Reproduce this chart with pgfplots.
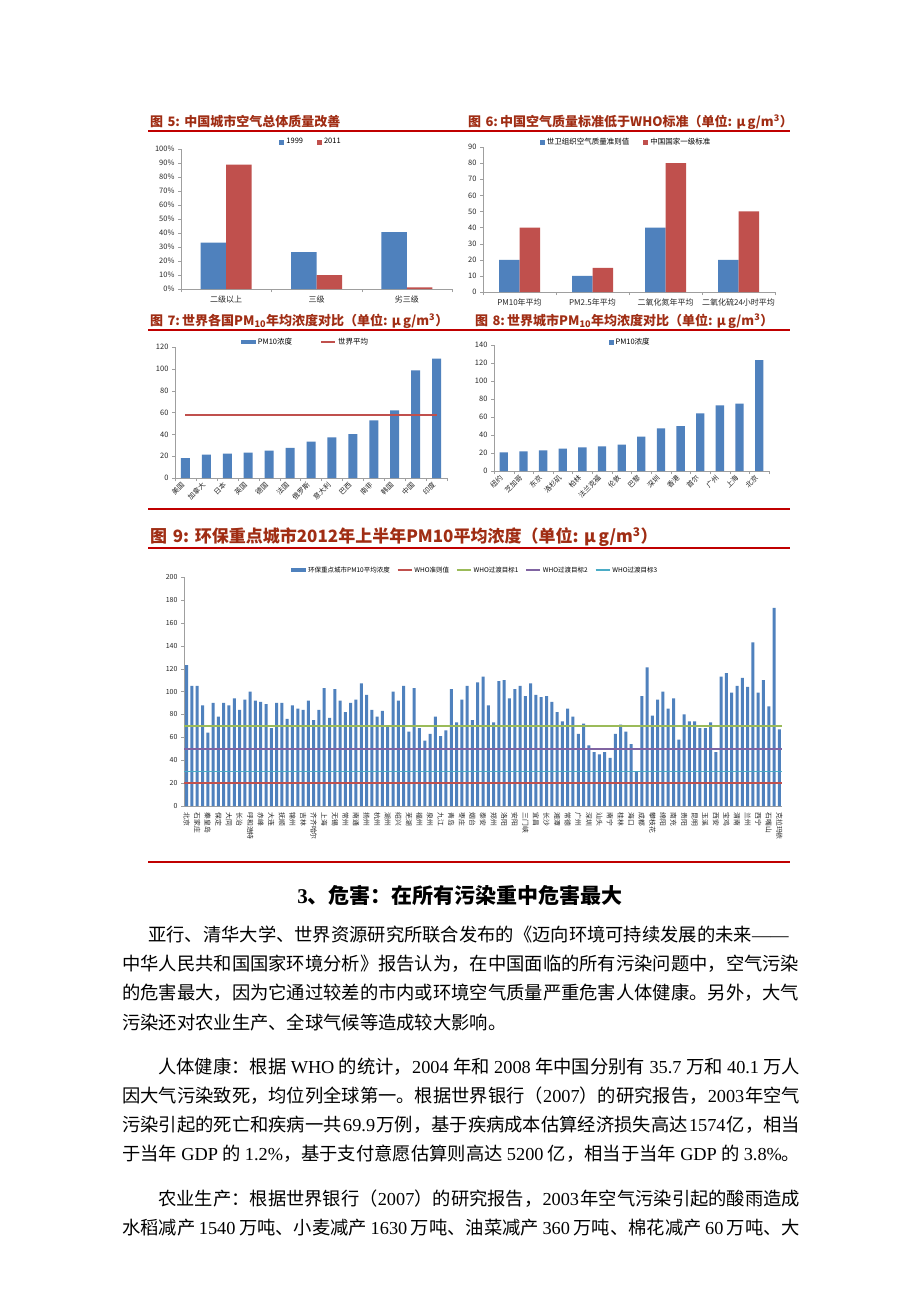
\documentclass[border=0pt]{standalone}
\usepackage{fontspec}
\setmainfont{Noto Sans CJK SC}
\newfontfamily\lat{Liberation Serif}
\usepackage{pgfplots}
\usepackage{pgfplotstable}
\pgfplotsset{compat=1.18}
\definecolor{xblue}{RGB}{79,129,189}
\definecolor{xred}{RGB}{192,80,77}
\definecolor{xgreen}{RGB}{155,187,89}
\definecolor{xpurple}{RGB}{128,100,162}
\definecolor{xcyan}{RGB}{75,172,198}
\definecolor{hdr}{RGB}{160,45,20}
\definecolor{rline}{RGB}{192,0,0}
\newcommand{\fs}[1]{\fontsize{#1}{#1}\selectfont}
\newcommand{\gp}{\hskip 0.22em plus 0.4em minus 0.2em\relax}
\pgfplotsset{
  doc/.style={scale only axis, axis x line*=bottom, axis y line*=left,
    axis line style={draw=gray!75},
    every outer x axis line/.append style={-}, every outer y axis line/.append style={-},
    every inner x axis line/.append style={-}, every inner y axis line/.append style={-},
    tick style={draw=gray!75}, tick align=outside,
    major tick length=3pt, minor tick length=3pt,
    /pgf/number format/assume math mode=true,
    ticklabel style={font=\fs{7.5}, text=black!85},
    legend style={draw=none, fill=none, legend columns=-1, font=\fs{7.5}, anchor=center,
      /tikz/every even column/.append style={column sep=12pt}},
    anchor=south west},
  sq/.style={legend image code/.code={\fill[##1] (0pt,-2.5pt) rectangle (5pt,2.5pt);}},
  rc/.style={legend image code/.code={\fill[##1] (0pt,-2pt) rectangle (15pt,2pt);}},
  ln/.style={legend image code/.code={\draw[##1] (0pt,0pt) -- (14pt,0pt);}},
}
\pgfplotstableread{
y
123
105
105
88
64
90
78
90
88
94
84
93
100
92
91
89
68
90
90
76
88
85
84
92
75
84
103
77
102
92
82
90
93
107
97
84
78
83
69
100
92
105
65
103
68
57
63
78
61
66
102
73
93
105
75
108
113
88
73
109
110
94
102
105
96
107
97
95
96
91
82
74
85
78
63
72
53
47
45
47
42
63
71
65
54
30
96
121
79
93
100
85
94
58
80
74
74
68
68
73
47
113
116
99
105
112
104
143
99
110
87
173
67
}\citydata
\begin{document}
\begin{tikzpicture}
\fill[white] (0pt,0pt) rectangle (920pt,-1302pt);

% ---------- headings and rules ----------
\begin{scope}[every node/.style={anchor=west, inner sep=0pt, text=hdr}]
\node[font=\fs{13}\bfseries] at (150pt,-122pt) {图\,\,5:\,\,中国城市空气总体质量改善};
\node[font=\fs{13}\bfseries] at (468pt,-122pt) {图\,\,6:\,中国空气质量标准低于WHO标准（单位:\,\,μ\,g/m\textsuperscript{3}）};
\node[font=\fs{13}\bfseries] at (150pt,-321pt) {图\,\,7:\,世界各国PM\textsubscript{10}年均浓度对比（单位:\,\,μ\,g/m\textsuperscript{3}）};
\node[font=\fs{13}\bfseries] at (475pt,-321pt) {图\,\,8:\,世界城市PM\textsubscript{10}年均浓度对比（单位:\,\,μ\,g/m\textsuperscript{3}）};
\node[font=\fs{17}\bfseries] at (150pt,-537pt) {图\,\,9:\,\,环保重点城市2012年上半年PM10平均浓度（单位:\,\,μ\,g/m\textsuperscript{3}）};
\end{scope}
\draw[rline, line width=1.6pt] (148pt,-131pt) -- (790pt,-131pt);
\draw[rline, line width=1.6pt] (148pt,-330pt) -- (790pt,-330pt);
\draw[rline, line width=1.6pt] (148pt,-509pt) -- (790pt,-509pt);
\draw[rline, line width=2.2pt] (148pt,-548pt) -- (790pt,-548pt);
\draw[rline, line width=2.2pt] (148pt,-862pt) -- (790pt,-862pt);

% ---------- Fig 5 ----------
\begin{axis}[doc, at={(181pt,-289pt)}, width=271pt, height=140pt,
  xmin=-0.5, xmax=2.5, ymin=0, ymax=100, ytick={0,10,...,100},
  yticklabel={\pgfmathprintnumber{\tick}\%},
  xtick={0,1,2}, xticklabels={二级以上,三级,劣三级},
  xticklabel style={font=\fs{8}},
  every major x tick/.append style={draw=none},
  minor xtick={-0.5,0.5,1.5,2.5},
  legend style={at={(0.48,1.05)}}]
\addplot[ybar, bar width=25.5pt, bar shift=-12.75pt, fill=xblue, draw=none, sq] coordinates {(0,33.1) (1,26.3) (2,40.6)};
\addplot[ybar, bar width=25.5pt, bar shift=12.75pt, fill=xred, draw=none, sq] coordinates {(0,88.8) (1,10) (2,1.2)};
\legend{1999,2011}
\end{axis}

% ---------- Fig 6 ----------
\begin{axis}[doc, at={(483pt,-292pt)}, width=292pt, height=145pt,
  xmin=-0.5, xmax=3.5, ymin=0, ymax=90, ytick={0,10,...,90},
  xtick={0,1,2,3}, xticklabels={PM10年平均,PM2.5年平均,二氧化氮年平均,二氧化硫24小时平均},
  xticklabel style={font=\fs{8}},
  every major x tick/.append style={draw=none},
  minor xtick={-0.5,0.5,1.5,2.5,3.5},
  legend style={at={(0.49,1.034)}}]
\addplot[ybar, bar width=20.5pt, bar shift=-10.25pt, fill=xblue, draw=none, sq] coordinates {(0,20) (1,10) (2,40) (3,20)};
\addplot[ybar, bar width=20.5pt, bar shift=10.25pt, fill=xred, draw=none, sq] coordinates {(0,40) (1,15) (2,80) (3,50)};
\legend{世卫组织空气质量准则值,中国国家一级标准}
\end{axis}

% ---------- Fig 7 ----------
\begin{axis}[doc, at={(175pt,-478pt)}, width=272pt, height=131pt,
  xmin=-0.5, xmax=12.5, ymin=0, ymax=120, ytick={0,20,...,120},
  xtick={0,...,12}, xticklabels={美国,加拿大,日本,英国,德国,法国,俄罗斯,意大利,巴西,南非,韩国,中国,印度},
  xticklabel style={rotate=45, anchor=east, font=\fs{7}},
  every major x tick/.append style={draw=none},
  minor xtick={-0.5,0.5,...,12.5},
  legend style={at={(0.48,1.04)}, /tikz/every even column/.append style={column sep=26pt}}]
\addplot[ybar, bar width=9pt, fill=xblue, draw=none, rc] coordinates {(0,18.3) (1,21.4) (2,22.3) (3,23.2) (4,25) (5,27.5) (6,33.3) (7,37.3) (8,40.3) (9,52.8) (10,62) (11,98.6) (12,109.3)};
\addplot[draw=xred, line width=2pt, mark=none, sharp plot, ln] coordinates {(0,57.4) (12,57.4)};
\legend{PM10浓度,世界平均}
\end{axis}

% ---------- Fig 8 ----------
\begin{axis}[doc, at={(494pt,-471pt)}, width=275pt, height=126pt,
  xmin=-0.5, xmax=13.5, ymin=0, ymax=140, ytick={0,20,...,140},
  xtick={0,...,13}, xticklabels={纽约,芝加哥,东京,洛杉矶,柏林,法兰克福,伦敦,巴黎,深圳,香港,首尔,广州,上海,北京},
  xticklabel style={rotate=45, anchor=east, font=\fs{7}},
  every major x tick/.append style={draw=none},
  minor xtick={-0.5,0.5,...,13.5},
  legend style={at={(0.495,1.02)}}]
\addplot[ybar, bar width=8.3pt, fill=xblue, draw=none, sq] coordinates {(0,20.7) (1,21.9) (2,23) (3,24.8) (4,26.3) (5,27.4) (6,29.3) (7,38.1) (8,47.4) (9,50) (10,64) (11,73) (12,74.8) (13,123.3)};
\legend{PM10浓度}
\end{axis}

% ---------- Fig 9 ----------
\begin{axis}[doc, at={(184pt,-806pt)}, width=598pt, height=229pt,
  xmin=-0.5, xmax=112.5, ymin=0, ymax=200, ytick={0,20,...,200},
  ticklabel style={font=\fs{7}},
  xtick={0,2,...,112},
  xticklabels={北京,石家庄,秦皇岛,保定,大同,长治,呼和浩特,赤峰,大连,抚顺,锦州,吉林,齐齐哈尔,上海,无锡,常州,南通,扬州,杭州,湖州,绍兴,芜湖,福州,泉州,九江,青岛,枣庄,烟台,泰安,郑州,洛阳,安阳,三门峡,宜昌,长沙,湘潭,常德,广州,深圳,汕头,南宁,桂林,海口,成都,攀枝花,绵阳,南充,贵阳,昆明,玉溪,西安,宝鸡,渭南,兰州,西宁,石嘴山,克拉玛依},
  xticklabel style={rotate=-90, anchor=west, font=\fs{6.8}},
  every major x tick/.append style={draw=none},
  legend style={at={(0.487,1.03)}, font=\fs{6.5}, /tikz/every even column/.append style={column sep=5pt}}]
\addplot[ybar, bar width=3pt, fill=xblue, draw=none, rc] table[x expr=\coordindex, y=y] {\citydata};
\addplot[draw=xred, line width=1.5pt, mark=none, ln] coordinates {(-0.5,20) (112.5,20)};
\addplot[draw=xgreen, line width=1.5pt, mark=none, ln] coordinates {(-0.5,70) (112.5,70)};
\addplot[draw=xpurple, line width=1.5pt, mark=none, ln] coordinates {(-0.5,50) (112.5,50)};
\addplot[draw=xcyan, line width=1.5pt, mark=none, ln] coordinates {(-0.5,30) (112.5,30)};
\legend{环保重点城市PM10平均浓度,WHO准则值,WHO过渡目标1,WHO过渡目标2,WHO过渡目标3}
\end{axis}

% ---------- body text ----------
\node[anchor=center, inner sep=0pt, font=\fs{21}\bfseries] at (460pt,-895pt) {{\lat\bfseries 3}、危害：在所有污染重中危害最大};
\begin{scope}[every node/.style={anchor=west, inner sep=0pt, font=\fs{18.3}}]
\node at (148pt,-935pt) {亚行、清华大学、世界资源研究所联合发布的《迈向环境可持续发展的未来{\lat ——}};
\node at (122pt,-964pt) {中华人民共和国国家环境分析》报告认为，在中国面临的所有污染问题中，空气污染};
\node at (122pt,-993pt) {的危害最大，因为它通过较差的市内或环境空气质量严重危害人体健康。另外，大气};
\node at (122pt,-1022pt) {污染还对农业生产、全球气候等造成较大影响。};
\node at (158pt,-1067pt) {\makebox[642pt][s]{人体健康：根据\gp{\lat WHO}\gp 的统计，{\lat 2004}\gp 年和\gp{\lat 2008}\gp 年中国分别有\gp{\lat 35.7}\gp 万和\gp{\lat 40.1}\gp 万人}};
\node at (122pt,-1096pt) {\makebox[678pt][s]{因大气污染致死，均位列全球第一。根据世界银行（{\lat 2007}）的研究报告，{\lat 2003}\gp 年空气}};
\node at (122pt,-1125pt) {\makebox[678pt][s]{污染引起的死亡和疾病一共\gp{\lat 69.9}\gp 万例，基于疾病成本估算经济损失高达\gp{\lat 1574}\gp 亿，相当}};
\node at (122pt,-1154pt) {\makebox[678pt][s]{于当年\gp{\lat GDP}\gp 的\gp{\lat 1.2\%}，基于支付意愿估算则高达\gp{\lat 5200}\gp 亿，相当于当年\gp{\lat GDP}\gp 的\gp{\lat 3.8\%}。}};
\node at (158pt,-1199pt) {\makebox[642pt][s]{农业生产：根据世界银行（{\lat 2007}）的研究报告，{\lat 2003}\gp 年空气污染引起的酸雨造成}};
\node at (122pt,-1228pt) {\makebox[678pt][s]{水稻减产\gp{\lat 1540}\gp 万吨、小麦减产\gp{\lat 1630}\gp 万吨、油菜减产\gp{\lat 360}\gp 万吨、棉花减产\gp{\lat 60}\gp 万吨、大}};
\end{scope}

\pgfresetboundingbox
\path[use as bounding box] (0pt,0pt) rectangle (920pt,-1302pt);
\end{tikzpicture}
\end{document}
